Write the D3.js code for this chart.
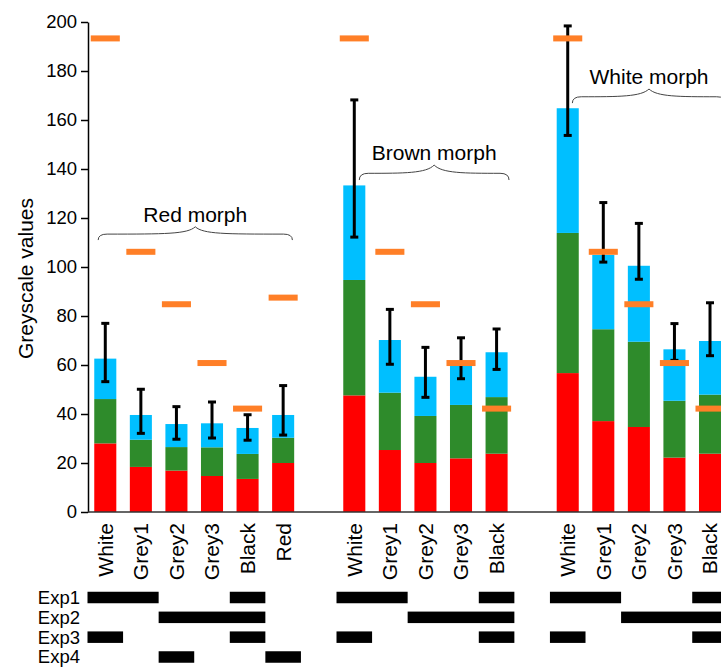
<!DOCTYPE html>
<html>
<head>
<meta charset="utf-8">
<script src="https://cdn.jsdelivr.net/npm/d3@7"></script>
<style>
  html, body { margin: 0; padding: 0; background: #fff; }
  svg { display: block; font-family: "Liberation Sans", Arial, sans-serif; }
</style>
</head>
<body>
<svg id="chart" width="721" height="668"></svg>
<script>
// ---------------- data ----------------
const morphs = ["Red morph", "Brown morph", "White morph"];
const redMorphCats = ["White", "Grey1", "Grey2", "Grey3", "Black", "Red"];
const brownMorphCats = ["White", "Grey1", "Grey2", "Grey3", "Black"];
const whiteMorphCats = ["White", "Grey1", "Grey2", "Grey3", "Black"];

// stacked segment values (red bottom, green middle, blue top)
const redMorphRed   = [28.0, 18.4, 16.9, 14.7, 13.5, 20.0];
const redMorphGreen = [18.1, 11.1,  9.6, 11.7, 10.2, 10.3];
const redMorphBlue  = [16.5, 10.1,  9.4,  9.8, 10.6,  9.3];
const brownMorphRed   = [47.6, 25.3, 20.0, 21.9, 23.8];
const brownMorphGreen = [47.1, 23.4, 19.2, 21.8, 23.1];
const brownMorphBlue  = [38.6, 21.5, 16.0, 16.8, 18.3];
const whiteMorphRed   = [56.7, 37.1, 34.7, 22.2, 23.8];
const whiteMorphGreen = [57.2, 37.5, 34.8, 23.2, 24.1];
const whiteMorphBlue  = [50.9, 30.3, 31.0, 21.0, 21.9];

// error bars (upper, lower)
const redMorphErrHigh   = [77.0, 50.1, 43.0, 44.9, 39.7, 51.6];
const redMorphErrLow    = [53.2, 32.1, 29.7, 30.2, 29.3, 31.4];
const brownMorphErrHigh = [168.2, 82.7, 67.2, 71.1, 74.7];
const brownMorphErrLow  = [112.2, 60.3, 46.8, 54.4, 58.2];
const whiteMorphErrHigh = [198.4, 126.3, 117.8, 76.9, 85.4];
const whiteMorphErrLow  = [153.7, 102.0, 95.0, 61.9, 63.8];

// orange reference values per category
const refCats   = ["White", "Grey1", "Grey2", "Grey3", "Black", "Red"];
const refValues = [193.3, 106.2, 84.8, 60.8, 42.2, 87.5];

// experiments: which categories are used in each experiment, per morph
const exps = ["Exp1", "Exp2", "Exp3", "Exp4"];
const expRedMorph   = [["White", "Grey1", "Black"], ["Grey2", "Grey3", "Black"], ["White", "Black"], ["Grey2", "Red"]];
const expBrownMorph = [["White", "Grey1", "Black"], ["Grey2", "Grey3", "Black"], ["White", "Black"], []];
const expWhiteMorph = [["White", "Grey1", "Black"], ["Grey2", "Grey3", "Black"], ["White", "Black"], []];

const yTicks = [0, 20, 40, 60, 80, 100, 120, 140, 160, 180, 200];
const yLabel = "Greyscale values";

// brace annotations (slot units, value units)
const braceFrom = [-0.2, 7.14, 13.13];
const braceTo   = [5.26, 11.35, 17.44];
const braceBase = [111.0, 135.5, 166.9];
const braceTip  = [116.4, 141.6, 172.65];

// ---------------- build table ----------------
const groups = [
  {morph: morphs[0], cats: redMorphCats, r: redMorphRed, g: redMorphGreen, b: redMorphBlue, hi: redMorphErrHigh, lo: redMorphErrLow, exp: expRedMorph},
  {morph: morphs[1], cats: brownMorphCats, r: brownMorphRed, g: brownMorphGreen, b: brownMorphBlue, hi: brownMorphErrHigh, lo: brownMorphErrLow, exp: expBrownMorph},
  {morph: morphs[2], cats: whiteMorphCats, r: whiteMorphRed, g: whiteMorphGreen, b: whiteMorphBlue, hi: whiteMorphErrHigh, lo: whiteMorphErrLow, exp: expWhiteMorph}
];
const slots = [];
const rows = [];
groups.forEach((g, gi) => {
  g.cats.forEach((c, i) => {
    const key = g.morph + "|" + c;
    slots.push(key);
    rows.push({key, cat: c, morph: g.morph, red: g.r[i], green: g.g[i], blue: g.b[i], hi: g.hi[i], lo: g.lo[i],
               ref: refValues[refCats.indexOf(c)],
               exps: exps.filter((e, ei) => g.exp[ei].includes(c))});
  });
  if (gi < groups.length - 1) slots.push("gap" + gi);
});

// ---------------- chart ----------------
const svg = d3.select("#chart");
svg.append("rect").attr("width", 721).attr("height", 668).attr("fill", "#fff");

const x = d3.scaleBand().domain(slots).range([87.5, 727.8]).paddingInner(0.38).paddingOuter(0.19);
const y = d3.scaleLinear().domain([0, 200]).range([512, 22]);
const bw = x.bandwidth();
const step = x.step();
const slotCenter = f => x(slots[0]) + bw / 2 + f * step;

const colors = {red: "#ff0000", green: "#2e8b2b", blue: "#00bfff"};
const stack = d3.stack().keys(["red", "green", "blue"]);
const series = stack(rows);

svg.append("g").selectAll("g").data(series).join("g")
  .attr("fill", d => colors[d.key])
  .selectAll("rect").data(d => d).join("rect")
  .attr("x", d => x(d.data.key))
  .attr("width", bw)
  .attr("y", d => y(d[1]))
  .attr("height", d => y(d[0]) - y(d[1]));

// error bars
const eb = svg.append("g").attr("stroke", "#000");
rows.forEach(d => {
  const cx = x(d.key) + bw / 2;
  eb.append("line").attr("x1", cx).attr("x2", cx).attr("y1", y(d.hi)).attr("y2", y(d.lo)).attr("stroke-width", 3);
  [d.hi, d.lo].forEach(v => {
    eb.append("line").attr("x1", cx - 4).attr("x2", cx + 4).attr("y1", y(v)).attr("y2", y(v)).attr("stroke-width", 3);
  });
});

// orange reference markers
svg.append("g").selectAll("rect").data(rows).join("rect")
  .attr("x", d => x(d.key) - 3.5)
  .attr("width", bw + 7)
  .attr("y", d => y(d.ref) - 3)
  .attr("height", 6)
  .attr("fill", "#ff7f27");

// axes
const yAxis = d3.axisLeft(y).tickValues(yTicks).tickSize(7).tickPadding(4).tickSizeOuter(0);
const ga = svg.append("g").attr("transform", "translate(88,0)").call(yAxis);
ga.select(".domain").attr("stroke", "#000").attr("stroke-width", 1.5);
ga.selectAll(".tick line").attr("stroke", "#000").attr("stroke-width", 1.5);
ga.selectAll(".tick text").attr("font-size", 18.5).attr("fill", "#000").attr("font-family", "Liberation Sans, Arial, sans-serif");

svg.append("line").attr("x1", 88).attr("x2", 721).attr("y1", y(0)).attr("y2", y(0))
  .attr("stroke", "#333").attr("stroke-width", 1.5);

// y label
svg.append("text")
  .attr("transform", `translate(33,${y(95.3)}) rotate(-90)`)
  .attr("text-anchor", "middle")
  .attr("font-size", 21)
  .text(yLabel);

// category labels
svg.append("g").selectAll("text").data(rows).join("text")
  .attr("transform", d => `translate(${x(d.key) + bw / 2},523) rotate(-90)`)
  .attr("text-anchor", "end")
  .attr("dy", "0.35em")
  .attr("font-size", 21)
  .text(d => d.cat);

// braces
morphs.forEach((m, i) => {
  const x0 = slotCenter(braceFrom[i]), x1 = slotCenter(braceTo[i]);
  const xm = (x0 + x1) / 2;
  const yb = y(braceBase[i]), yt = y(braceTip[i]);
  const ym = yb - 0.45 * (yb - yt);
  const p = `M${x0},${yb} Q${x0},${ym} ${x0 + 9},${ym} C${xm - 30},${ym} ${xm - 8},${ym} ${xm},${yt} ` +
            `C${xm + 8},${ym} ${xm + 30},${ym} ${x1 - 9},${ym} Q${x1},${ym} ${x1},${yb}`;
  svg.append("path").attr("d", p).attr("fill", "none").attr("stroke", "#444").attr("stroke-width", 1);
  svg.append("text").attr("x", xm).attr("y", yt - 5).attr("text-anchor", "middle").attr("font-size", 21).text(m);
});

// experiment rows
const ey = d3.scalePoint().domain(exps).range([597.5, 657]);
svg.append("g").selectAll("text").data(exps).join("text")
  .attr("x", 80).attr("y", d => ey(d)).attr("dy", "0.35em")
  .attr("text-anchor", "end").attr("font-size", 18.5).text(d => d);

// merge adjacent slots of the same experiment into single runs
const expRuns = [];
exps.forEach(e => {
  let run = null;
  slots.forEach((s, si) => {
    const row = rows.find(r => r.key === s);
    const on = row && row.exps.includes(e);
    if (on) {
      if (run && run.end === si - 1) run.end = si;
      else { run = {exp: e, start: si, end: si}; expRuns.push(run); }
    }
  });
});
svg.append("g").selectAll("rect").data(expRuns).join("rect")
  .attr("x", d => x(slots[d.start]) - (step - bw) / 2)
  .attr("width", d => (d.end - d.start + 1) * step)
  .attr("y", d => ey(d.exp) - 5.75)
  .attr("height", 11.5)
  .attr("fill", "#000");
</script>
</body>
</html>
